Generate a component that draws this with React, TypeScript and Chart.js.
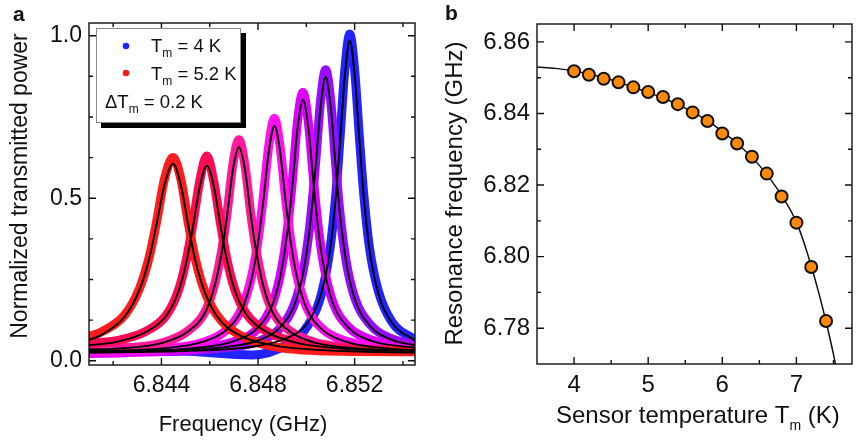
import React, { useEffect, useRef } from 'react';
import { Chart, registerables } from 'chart.js';

Chart.register(...registerables);

const FONT = '"Liberation Sans", Arial, Helvetica, sans-serif';
const INK = '#111111';

// ---------- Panel a: transmission spectra (frequency in GHz, normalized power) ----------
const freq4K = [6.84100, 6.84484, 6.84774, 6.84919, 6.85006, 6.85064, 6.85099, 6.85122, 6.85139, 6.85160, 6.85180, 6.85200, 6.85221, 6.85238, 6.85261, 6.85296, 6.85354, 6.85450];
const fit4K = [0.025, 0.030, 0.043, 0.070, 0.117, 0.213, 0.346, 0.503, 0.668, 0.880, 0.985, 0.880, 0.668, 0.503, 0.346, 0.213, 0.117, 0.062];
const meas4K = [0.032, 0.030, 0.018, 0.050, 0.108, 0.210, 0.350, 0.510, 0.680, 0.900, 1.005, 0.895, 0.675, 0.510, 0.350, 0.220, 0.120, 0.065];

const freq42 = [6.84100, 6.84358, 6.84659, 6.84810, 6.84900, 6.84960, 6.84996, 6.85020, 6.85038, 6.85059, 6.85080, 6.85101, 6.85122, 6.85140, 6.85164, 6.85200, 6.85260, 6.85351, 6.85450];
const fit42 = [0.026, 0.030, 0.042, 0.065, 0.110, 0.191, 0.308, 0.447, 0.592, 0.780, 0.873, 0.780, 0.592, 0.447, 0.308, 0.191, 0.110, 0.065, 0.048];
const meas42 = [0.030, 0.028, 0.040, 0.062, 0.108, 0.195, 0.315, 0.455, 0.605, 0.800, 0.895, 0.800, 0.600, 0.450, 0.310, 0.195, 0.115, 0.068, 0.050];

const freq44 = [6.84100, 6.84240, 6.84551, 6.84706, 6.84800, 6.84862, 6.84899, 6.84924, 6.84943, 6.84964, 6.84986, 6.85008, 6.85030, 6.85048, 6.85073, 6.85110, 6.85173, 6.85266, 6.85450];
const fit44 = [0.027, 0.029, 0.040, 0.062, 0.103, 0.177, 0.285, 0.412, 0.545, 0.718, 0.803, 0.718, 0.545, 0.412, 0.285, 0.177, 0.103, 0.062, 0.040];
const meas44 = [0.022, 0.025, 0.038, 0.060, 0.100, 0.180, 0.290, 0.420, 0.560, 0.740, 0.825, 0.735, 0.555, 0.420, 0.290, 0.180, 0.105, 0.065, 0.042];

const freq46 = [6.84100, 6.84404, 6.84570, 6.84669, 6.84735, 6.84775, 6.84802, 6.84822, 6.84845, 6.84868, 6.84891, 6.84914, 6.84934, 6.84961, 6.85001, 6.85067, 6.85166, 6.85332, 6.85450];
const fit46 = [0.030, 0.038, 0.058, 0.095, 0.161, 0.258, 0.372, 0.492, 0.646, 0.723, 0.646, 0.492, 0.372, 0.258, 0.161, 0.095, 0.058, 0.038, 0.033];
const meas46 = [0.028, 0.036, 0.056, 0.095, 0.165, 0.265, 0.380, 0.505, 0.665, 0.745, 0.660, 0.500, 0.378, 0.262, 0.165, 0.098, 0.060, 0.040, 0.034];

const freq48 = [6.84100, 6.84228, 6.84404, 6.84510, 6.84580, 6.84622, 6.84651, 6.84672, 6.84696, 6.84721, 6.84746, 6.84770, 6.84792, 6.84820, 6.84862, 6.84932, 6.85038, 6.85214, 6.85450];
const fit48 = [0.035, 0.038, 0.055, 0.090, 0.147, 0.235, 0.339, 0.447, 0.588, 0.657, 0.588, 0.447, 0.339, 0.235, 0.147, 0.090, 0.055, 0.038, 0.030];
const meas48 = [0.040, 0.040, 0.055, 0.092, 0.150, 0.240, 0.345, 0.455, 0.605, 0.680, 0.600, 0.452, 0.342, 0.238, 0.150, 0.092, 0.056, 0.038, 0.030];

const freq50 = [6.84100, 6.84215, 6.84339, 6.84422, 6.84472, 6.84505, 6.84530, 6.84559, 6.84588, 6.84617, 6.84646, 6.84671, 6.84704, 6.84754, 6.84837, 6.84961, 6.85168, 6.85450];
const fit50 = [0.048, 0.058, 0.090, 0.140, 0.216, 0.310, 0.409, 0.537, 0.600, 0.537, 0.409, 0.310, 0.216, 0.140, 0.088, 0.055, 0.036, 0.030];
const meas50 = [0.055, 0.062, 0.092, 0.142, 0.220, 0.318, 0.420, 0.555, 0.630, 0.550, 0.415, 0.312, 0.218, 0.142, 0.090, 0.056, 0.038, 0.030];

const freq52 = [6.84100, 6.84150, 6.84249, 6.84309, 6.84349, 6.84378, 6.84413, 6.84448, 6.84480, 6.84512, 6.84539, 6.84576, 6.84630, 6.84722, 6.84858, 6.85086, 6.85450];
const fit52 = [0.064, 0.079, 0.137, 0.218, 0.313, 0.413, 0.542, 0.606, 0.542, 0.413, 0.313, 0.218, 0.137, 0.079, 0.048, 0.032, 0.025];
const meas52 = [0.075, 0.088, 0.142, 0.222, 0.318, 0.420, 0.560, 0.625, 0.560, 0.420, 0.318, 0.220, 0.140, 0.080, 0.045, 0.030, 0.028];

const temperaturesA = ['4.0 K', '4.2 K', '4.4 K', '4.6 K', '4.8 K', '5.0 K', '5.2 K'];
const colorsA = ['#2323ff', '#9a0cff', '#dd00ff', '#ff10ec', '#ff1a9c', '#ff0a55', '#ff1c1c'];

const aXTicks = [6.844, 6.848, 6.852];
const aXMinor = [6.842, 6.846, 6.85, 6.854];
const aYTicks = [0, 0.5, 1.0];
const aYMinor = [0.125, 0.25, 0.375, 0.625, 0.75, 0.875];

// ---------- Panel b: resonance frequency vs sensor temperature ----------
const sensorT = [4.0, 4.2, 4.4, 4.6, 4.8, 5.0, 5.2, 5.4, 5.6, 5.8, 6.0, 6.2, 6.4, 6.6, 6.8, 7.0, 7.2, 7.4];
const resFreq = [6.8518, 6.8508, 6.8497, 6.8487, 6.8473, 6.8460, 6.8446, 6.8426, 6.8403, 6.8379, 6.8344, 6.8316, 6.8279, 6.8232, 6.8168, 6.8095, 6.7971, 6.7820];
const fitT = [3.5, 3.75, 4.0, 4.25, 4.5, 4.75, 5.0, 5.25, 5.5, 5.75, 6.0, 6.25, 6.5, 6.75, 7.0, 7.1, 7.2, 7.3, 7.4, 7.5, 7.55];
const fitF = [6.8530, 6.8526, 6.8519, 6.8508, 6.8494, 6.8477, 6.8459, 6.8439, 6.8415, 6.8386, 6.8350, 6.8307, 6.8255, 6.8187, 6.8097, 6.8040, 6.7974, 6.7900, 6.7818, 6.7727, 6.7675];

const bXTicks = [4, 5, 6, 7];
const bXMinor = [4.5, 5.5, 6.5, 7.5];
const bYTicks = [6.78, 6.8, 6.82, 6.84, 6.86];
const bYMinor = [6.79, 6.81, 6.83, 6.85];

const spectra = [
  { f: freq4K, fit: fit4K, meas: meas4K },
  { f: freq42, fit: fit42, meas: meas42 },
  { f: freq44, fit: fit44, meas: meas44 },
  { f: freq46, fit: fit46, meas: meas46 },
  { f: freq48, fit: fit48, meas: meas48 },
  { f: freq50, fit: fit50, meas: meas50 },
  { f: freq52, fit: fit52, meas: meas52 },
];

type Part = { t: string; size: number; dy?: number; bold?: boolean };

function setFont(ctx: CanvasRenderingContext2D, p: Part) {
  ctx.font = `${p.bold ? 'bold ' : ''}${p.size}px ${FONT}`;
}
function richWidth(ctx: CanvasRenderingContext2D, parts: Part[]) {
  let w = 0;
  parts.forEach((p) => {
    setFont(ctx, p);
    w += ctx.measureText(p.t).width;
  });
  return w;
}
function drawRich(ctx: CanvasRenderingContext2D, parts: Part[], x: number, y: number, align: 'left' | 'center' = 'left') {
  let cx = align === 'center' ? x - richWidth(ctx, parts) / 2 : x;
  ctx.textAlign = 'left';
  ctx.textBaseline = 'alphabetic';
  ctx.fillStyle = INK;
  parts.forEach((p) => {
    setFont(ctx, p);
    ctx.fillText(p.t, cx, y + (p.dy ?? 0));
    cx += ctx.measureText(p.t).width;
  });
}

function frameTicksPlugin(id: string, xMajor: number[], xMinor: number[], yMajor: number[], yMinor: number[]) {
  return {
    id,
    afterDatasetsDraw(chart: any) {
      const { ctx, chartArea, scales } = chart;
      const { left, right, top, bottom } = chartArea;
      const xs = scales.x;
      const ys = scales.y;
      ctx.save();
      ctx.strokeStyle = INK;
      ctx.lineWidth = 1.4;
      ctx.strokeRect(left, top, right - left, bottom - top);
      ctx.beginPath();
      const vt = (v: number, len: number) => {
        const p = xs.getPixelForValue(v);
        ctx.moveTo(p, bottom);
        ctx.lineTo(p, bottom - len);
        ctx.moveTo(p, top);
        ctx.lineTo(p, top + len);
      };
      const ht = (v: number, len: number) => {
        const p = ys.getPixelForValue(v);
        ctx.moveTo(left, p);
        ctx.lineTo(left + len, p);
        ctx.moveTo(right, p);
        ctx.lineTo(right - len, p);
      };
      xMajor.forEach((v) => vt(v, 7));
      xMinor.forEach((v) => vt(v, 4));
      yMajor.forEach((v) => ht(v, 7));
      yMinor.forEach((v) => ht(v, 4));
      ctx.stroke();
      ctx.restore();
    },
  };
}

const textPluginA = {
  id: 'textA',
  afterDraw(chart: any) {
    const ctx: CanvasRenderingContext2D = chart.ctx;
    ctx.save();
    drawRich(ctx, [{ t: 'a', size: 21, bold: true }], 13, 20.5);
    ctx.save();
    ctx.translate(26.5, 186);
    ctx.rotate(-Math.PI / 2);
    drawRich(ctx, [{ t: 'Normalized transmitted power', size: 23 }], 0, 0, 'center');
    ctx.restore();
    drawRich(ctx, [{ t: 'Frequency (GHz)', size: 22 }], 243, 431, 'center');
    // legend box with shadow
    ctx.fillStyle = '#000';
    ctx.fillRect(101, 33, 145, 95);
    ctx.fillStyle = '#fff';
    ctx.fillRect(96, 28, 145, 95);
    ctx.strokeStyle = '#8a8a8a';
    ctx.lineWidth = 1;
    ctx.strokeRect(96.5, 28.5, 144, 94);
    ctx.fillStyle = colorsA[0];
    ctx.beginPath();
    ctx.arc(126, 46, 3.3, 0, Math.PI * 2);
    ctx.fill();
    ctx.fillStyle = colorsA[6];
    ctx.beginPath();
    ctx.arc(126, 73, 3.3, 0, Math.PI * 2);
    ctx.fill();
    drawRich(ctx, [{ t: 'T', size: 18.5 }, { t: 'm', size: 12, dy: 5 }, { t: ' = 4 K', size: 18.5 }], 151, 52);
    drawRich(ctx, [{ t: 'T', size: 18.5 }, { t: 'm', size: 12, dy: 5 }, { t: ' = 5.2 K', size: 18.5 }], 151, 79.5);
    drawRich(ctx, [{ t: '\u0394T', size: 18.5 }, { t: 'm', size: 12, dy: 5 }, { t: ' = 0.2 K', size: 18.5 }], 105, 108);
    ctx.restore();
  },
};

const textPluginB = {
  id: 'textB',
  afterDraw(chart: any) {
    const ctx: CanvasRenderingContext2D = chart.ctx;
    ctx.save();
    drawRich(ctx, [{ t: 'b', size: 21, bold: true }], 15, 20);
    ctx.save();
    ctx.translate(31.5, 193.5);
    ctx.rotate(-Math.PI / 2);
    drawRich(ctx, [{ t: 'Resonance frequency (GHz)', size: 24 }], 0, 0, 'center');
    ctx.restore();
    drawRich(ctx, [{ t: 'Sensor temperature T', size: 24 }, { t: 'm', size: 14, dy: 7 }, { t: ' (K)', size: 24 }], 126, 423);
    ctx.restore();
  },
};

function axisBase(min: number, max: number, ticks: number[], digits: number, size: number, padding: number) {
  return {
    type: 'linear' as const,
    min,
    max,
    grid: { display: false, drawTicks: false },
    border: { display: false },
    afterBuildTicks: (s: any) => {
      s.ticks = ticks.map((v) => ({ value: v }));
    },
    ticks: {
      padding,
      autoSkip: false,
      maxRotation: 0,
      color: INK,
      font: { size, family: FONT },
      callback: (v: any) => Number(v).toFixed(digits),
    },
  };
}

function buildA() {
  const datasets: any[] = [];
  spectra.forEach((s, i) => {
    datasets.push({
      label: `data ${temperaturesA[i]}`,
      data: s.f.map((x, j) => ({ x, y: s.meas[j] })),
      borderColor: colorsA[i],
      borderWidth: 9,
      borderJoinStyle: 'round',
      borderCapStyle: 'round',
      pointRadius: 0,
      cubicInterpolationMode: 'monotone',
      clip: 0,
      order: 7 - i,
    });
  });
  spectra.forEach((s, i) => {
    datasets.push({
      label: `fit ${temperaturesA[i]}`,
      data: s.f.map((x, j) => ({ x, y: s.fit[j] })),
      borderColor: '#000',
      borderWidth: 1.9,
      pointRadius: 0,
      cubicInterpolationMode: 'monotone',
      clip: 0,
      order: 0,
    });
  });
  const x: any = axisBase(6.841, 6.8545, aXTicks, 3, 23, 7);
  x.afterFit = (s: any) => {
    s.height = 76;
  };
  const y: any = axisBase(-0.013, 1.039, aYTicks, 1, 23, 7);
  y.afterFit = (s: any) => {
    s.width = 89;
  };
  return {
    type: 'line' as const,
    data: { datasets },
    options: {
      animation: false,
      responsive: false,
      devicePixelRatio: 1,
      layout: { padding: { left: 0, right: 15, top: 23, bottom: 0 } },
      plugins: { legend: { display: false }, tooltip: { enabled: false } },
      scales: { x, y },
    },
    plugins: [frameTicksPlugin('frameA', aXTicks, aXMinor, aYTicks, aYMinor), textPluginA],
  };
}

function buildB() {
  const datasets: any[] = [
    {
      label: 'Measured',
      data: sensorT.map((x, j) => ({ x, y: resFreq[j] })),
      showLine: false,
      pointRadius: 6,
      pointBorderWidth: 2,
      pointBackgroundColor: '#ff8a0a',
      pointBorderColor: '#111',
      clip: false,
      order: 0,
    },
    {
      label: 'Fit',
      data: fitT.map((x, j) => ({ x, y: fitF[j] })),
      borderColor: '#111',
      borderWidth: 1.5,
      pointRadius: 0,
      cubicInterpolationMode: 'monotone',
      clip: 0,
      order: 1,
    },
  ];
  const x: any = axisBase(3.5, 7.75, bXTicks, 0, 24, 7);
  x.afterFit = (s: any) => {
    s.height = 77;
  };
  const y: any = axisBase(6.77, 6.865, bYTicks, 2, 24, 7);
  y.afterFit = (s: any) => {
    s.width = 107;
  };
  return {
    type: 'line' as const,
    data: { datasets },
    options: {
      animation: false,
      responsive: false,
      devicePixelRatio: 1,
      layout: { padding: { left: 0, right: 1, top: 24, bottom: 0 } },
      plugins: { legend: { display: false }, tooltip: { enabled: false } },
      scales: { x, y },
    },
    plugins: [frameTicksPlugin('frameB', bXTicks, bXMinor, bYTicks, bYMinor), textPluginB],
  };
}

export default function App() {
  const refA = useRef<HTMLCanvasElement>(null);
  const refB = useRef<HTMLCanvasElement>(null);
  useEffect(() => {
    document.body.style.margin = '0';
    Chart.defaults.font.family = FONT;
    Chart.defaults.color = INK;
    const chartA = new Chart(refA.current as HTMLCanvasElement, buildA() as any);
    const chartB = new Chart(refB.current as HTMLCanvasElement, buildB() as any);
    return () => {
      chartA.destroy();
      chartB.destroy();
    };
  }, []);
  return (
    <div style={{ position: 'relative', width: 860, height: 441, background: '#fff', overflow: 'hidden' }}>
      <canvas ref={refA} width={430} height={441} style={{ position: 'absolute', left: 0, top: 0, width: 430, height: 441 }} />
      <canvas ref={refB} width={430} height={441} style={{ position: 'absolute', left: 430, top: 0, width: 430, height: 441 }} />
    </div>
  );
}
